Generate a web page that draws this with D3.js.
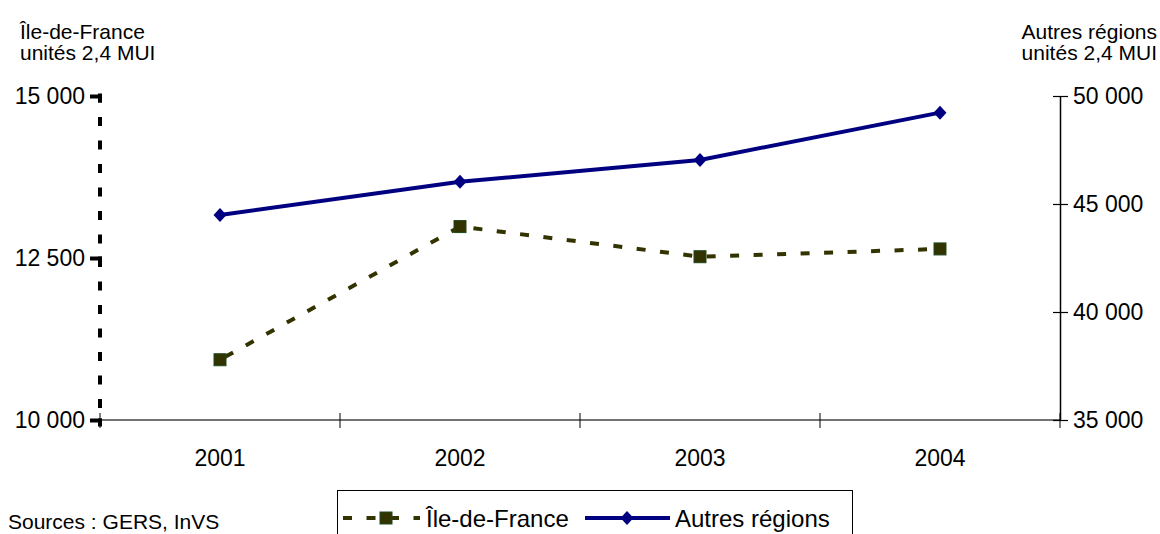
<!DOCTYPE html>
<html><head><meta charset="utf-8">
<script src="https://cdn.jsdelivr.net/npm/d3@7/dist/d3.min.js"></script>
<style>
body{margin:0;background:#fff;}
svg{display:block;font-family:"Liberation Sans",Arial,sans-serif;}
</style></head>
<body><svg id="c" width="1160" height="534"></svg>
<script>
const years = ["2001","2002","2003","2004"];
const ileDeFrance = [10930, 12985, 12520, 12640];
const autresRegions = [44490, 46030, 47040, 49230];
const leftTicks = [10000, 12500, 15000];
const rightTicks = [35000, 40000, 45000, 50000];
const leftTitle = ["Île-de-France", "unités 2,4 MUI"];
const rightTitle = ["Autres régions", "unités 2,4 MUI"];
const seriesNames = ["Île-de-France", "Autres régions"];
const sourceText = "Sources : GERS, InVS";

const svg = d3.select("#c");
const L = 100, R = 1060, T = 96, B = 420;
const x = d3.scaleBand().domain(years).range([L, R]);
const yL = d3.scaleLinear().domain([10000, 15000]).range([B, T]);
const yR = d3.scaleLinear().domain([35000, 50000]).range([B, T]);
const fmt = v => d3.format(",")(v).replace(/,/g, " ");
const idfColor = "#333300", arColor = "#000080";
const FF = "Liberation Sans, Arial, sans-serif";

// titles
svg.append("text").attr("x", 20).attr("y", 39).attr("font-size", 21).text(leftTitle[0]);
svg.append("text").attr("x", 20).attr("y", 60).attr("font-size", 21).text(leftTitle[1]);
svg.append("text").attr("x", 1157).attr("y", 39).attr("font-size", 21).attr("text-anchor", "end").text(rightTitle[0]);
svg.append("text").attr("x", 1157).attr("y", 60).attr("font-size", 21).attr("text-anchor", "end").text(rightTitle[1]);

// x axis line + crossing ticks
svg.append("line").attr("x1", L).attr("x2", R).attr("y1", B).attr("y2", B).attr("stroke", "#444").attr("stroke-width", 1.5);
const bounds = years.map(d => x(d)).concat([x.range()[1]]);
svg.selectAll(".xt").data(bounds).join("line").attr("class", "xt")
  .attr("x1", d => d).attr("x2", d => d).attr("y1", B - 7).attr("y2", B + 8)
  .attr("stroke", "#000").attr("stroke-width", 1);
const xa = svg.append("g").attr("transform", `translate(0,${B})`)
  .call(d3.axisBottom(x).tickSize(0).tickPadding(30));
xa.select(".domain").remove();
xa.selectAll("text").attr("font-size", 23).attr("font-family", FF).attr("fill", "#000");

// left axis (dashed)
svg.append("line").attr("x1", L).attr("x2", L).attr("y1", T - 2.5).attr("y2", B)
  .attr("stroke", "#000").attr("stroke-width", 4).attr("stroke-dasharray", "9,14.5");
const la = svg.append("g").attr("transform", `translate(${L + 2},0)`)
  .call(d3.axisLeft(yL).tickValues(leftTicks).tickSizeInner(12).tickSizeOuter(0).tickPadding(5).tickFormat(fmt));
la.select(".domain").remove();
la.selectAll(".tick line").attr("stroke", "#000").attr("stroke-width", 4);
la.selectAll(".tick").each(function(){
  d3.select(this).append("line").attr("x1", -2).attr("x2", -2).attr("y1", -2).attr("y2", 6)
    .attr("stroke", "#000").attr("stroke-width", 4);
});
la.selectAll("text").attr("font-size", 23).attr("font-family", FF).attr("fill", "#000");

// right axis
const ra = svg.append("g").attr("transform", `translate(${R},0)`)
  .call(d3.axisRight(yR).tickValues(rightTicks).tickSizeInner(8).tickSizeOuter(0).tickPadding(5).tickFormat(fmt));
ra.select(".domain").attr("stroke", "#000").attr("stroke-width", 1.5);
ra.selectAll(".tick line").attr("stroke", "#000").attr("stroke-width", 1.2).attr("x1", -7);
ra.selectAll("text").attr("font-size", 23).attr("font-family", FF).attr("fill", "#000");

// series
const cx = d => x(d) + x.bandwidth() / 2;
const idfLine = d3.line().x((d, i) => cx(years[i])).y(d => yL(d));
const arLine = d3.line().x((d, i) => cx(years[i])).y(d => yR(d));
svg.append("path").attr("d", idfLine(ileDeFrance)).attr("fill", "none").attr("stroke", idfColor)
  .attr("stroke-width", 4).attr("stroke-dasharray", "9,14.5").attr("stroke-dashoffset", -6);
svg.append("path").attr("d", arLine(autresRegions)).attr("fill", "none").attr("stroke", arColor).attr("stroke-width", 4);

const sq = 12;
svg.selectAll(".sq").data(ileDeFrance).join("rect").attr("class", "sq")
  .attr("x", (d, i) => cx(years[i]) - sq / 2).attr("y", d => yL(d) - sq / 2)
  .attr("width", sq).attr("height", sq).attr("fill", idfColor).attr("stroke", "#1e4a1e").attr("stroke-width", 1);
const diamond = (cxp, cyp) => `M${cxp},${cyp - 7}L${cxp + 6.5},${cyp}L${cxp},${cyp + 7}L${cxp - 6.5},${cyp}Z`;
svg.selectAll(".dm").data(autresRegions).join("path").attr("class", "dm")
  .attr("d", (d, i) => diamond(cx(years[i]), yR(d))).attr("fill", arColor);

// legend
const ly = 518;
svg.append("rect").attr("x", 337.5).attr("y", 490.5).attr("width", 515).attr("height", 80)
  .attr("fill", "none").attr("stroke", "#000").attr("stroke-width", 1);
svg.append("line").attr("x1", 343).attr("x2", 420).attr("y1", ly).attr("y2", ly)
  .attr("stroke", idfColor).attr("stroke-width", 4).attr("stroke-dasharray", "9,14.5");
svg.append("rect").attr("x", 386 - sq / 2).attr("y", ly - sq / 2).attr("width", sq).attr("height", sq)
  .attr("fill", idfColor).attr("stroke", "#1e4a1e").attr("stroke-width", 1);
svg.append("text").attr("x", 426).attr("y", ly + 9).attr("font-size", 24).text(seriesNames[0]);
svg.append("line").attr("x1", 585).attr("x2", 670).attr("y1", ly).attr("y2", ly)
  .attr("stroke", arColor).attr("stroke-width", 4);
svg.append("path").attr("d", diamond(627, ly)).attr("fill", arColor);
svg.append("text").attr("x", 675).attr("y", ly + 9).attr("font-size", 24).text(seriesNames[1]);

// source
svg.append("text").attr("x", 8).attr("y", 529).attr("font-size", 21).text(sourceText);
</script></body></html>
